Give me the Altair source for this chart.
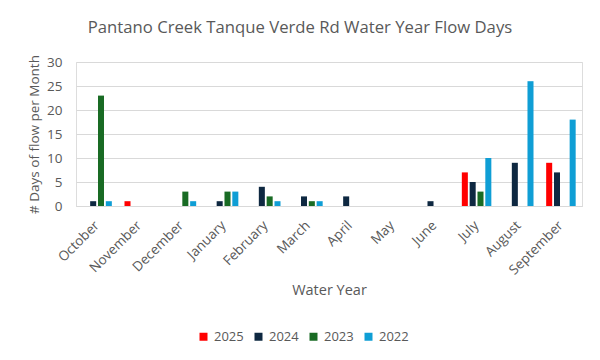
import altair as alt
import pandas as pd

months = ["October", "November", "December", "January", "February", "March",
          "April", "May", "June", "July", "August", "September"]
years = ["2025", "2024", "2023", "2022"]
v2025 = [0, 1, 0, 0, 0, 0, 0, 0, 0, 7, 0, 9]
v2024 = [1, 0, 0, 1, 4, 2, 2, 0, 1, 5, 9, 7]
v2023 = [23, 0, 3, 3, 2, 1, 0, 0, 0, 3, 0, 0]
v2022 = [1, 0, 1, 3, 1, 1, 0, 0, 0, 10, 26, 18]
colors = ["#FF0000", "#0E2841", "#196B24", "#0F9ED5"]

rows = []
for y, vals in zip(years, [v2025, v2024, v2023, v2022]):
    for m, v in zip(months, vals):
        rows.append({"Month": m, "Year": y, "Days": v})
df = pd.DataFrame(rows)

font = "Open Sans"
grey = "#595959"

chart = alt.Chart(df).mark_bar(stroke=None).encode(
    x=alt.X("Month:N", sort=months,
            scale=alt.Scale(paddingInner=0.30, paddingOuter=0.15),
            axis=alt.Axis(title="Water Year", labelAngle=-45, labelAlign="right",
                          labelBaseline="middle", labelFontSize=13.5, labelColor=grey,
                          titleFontSize=14.5, titleColor=grey, titleFontWeight="normal",
                          titlePadding=7, ticks=False, domainColor="#D9D9D9",
                          labelPadding=17, labelFont=font, titleFont=font)),
    xOffset=alt.XOffset("Year:N", sort=years,
                        scale=alt.Scale(paddingInner=0.23, paddingOuter=0)),
    y=alt.Y("Days:Q", scale=alt.Scale(domain=[0, 30]),
            axis=alt.Axis(title="# Days of flow per Month", values=[0, 5, 10, 15, 20, 25, 30],
                          labelFontSize=13.5, labelColor=grey, titleFontSize=13.5,
                          titleColor=grey, titleFontWeight="normal", domain=False,
                          ticks=False, gridColor="#D9D9D9", labelPadding=14,
                          titlePadding=5, labelFont=font, titleFont=font)),
    color=alt.Color("Year:N", sort=years,
                    scale=alt.Scale(domain=years, range=colors),
                    legend=alt.Legend(title=None, orient="none", direction="horizontal",
                                      legendX=121, legendY=268,
                                      symbolType="square", symbolSize=64,
                                      symbolStrokeWidth=0, labelFontSize=13,
                                      labelColor=grey, labelFont=font,
                                      columnPadding=8, labelOffset=4)),
).properties(
    width=506, height=144,
    title=alt.Title("Pantano Creek Tanque Verde Rd Water Year Flow Days",
                    fontSize=16.7, color=grey, font=font, fontWeight="normal",
                    anchor="middle", frame="group", dx=-29, offset=18),
    autosize=alt.AutoSizeParams(type="none"),
    padding={"left": 68, "top": 54, "right": 10, "bottom": 146},
).configure_view(stroke=None).configure(background="white")

chart.save("out.html", embed_options={"renderer": "svg", "actions": False})
